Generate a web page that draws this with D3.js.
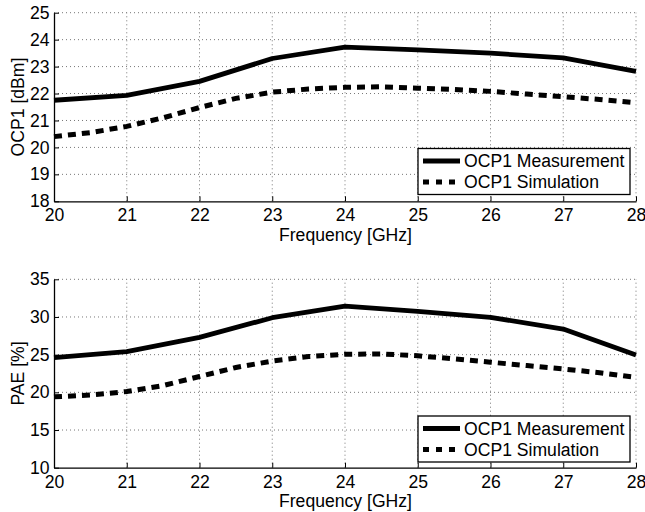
<!DOCTYPE html>
<html>
<head>
<meta charset="utf-8">
<script src="https://cdn.jsdelivr.net/npm/d3@7"></script>
<style>
  body { margin: 0; background: #fff; }
  text { font-family: "Liberation Sans", Arial, sans-serif; fill: #000; }
</style>
</head>
<body>
<div id="main"></div>
<script>
// frequency points (GHz)
var freq = [20, 21, 22, 23, 24, 25, 26, 27, 28];
var freqTicks = [20, 21, 22, 23, 24, 25, 26, 27, 28];

// OCP1 [dBm]
var ocpMeas = [21.75, 21.93, 22.45, 23.3, 23.72, 23.62, 23.5, 23.32, 22.82];
var ocpSimFreq = [20, 20.5, 21, 21.5, 22, 22.5, 23, 23.5, 24, 24.5, 25, 25.5, 26, 26.5, 27, 27.5, 28];
var ocpSim = [20.4, 20.55, 20.78, 21.1, 21.48, 21.82, 22.05, 22.17, 22.23, 22.25, 22.2, 22.15, 22.08, 21.98, 21.88, 21.78, 21.66];
var ocpTicks = [18, 19, 20, 21, 22, 23, 24, 25];

// PAE [%]
var paeMeas = [24.6, 25.4, 27.3, 29.9, 31.45, 30.75, 29.95, 28.4, 24.95];
var paeSimFreq = ocpSimFreq;
var paeSim = [19.4, 19.65, 20.1, 20.9, 22.1, 23.3, 24.15, 24.75, 25.05, 25.1, 24.85, 24.45, 24.0, 23.55, 23.1, 22.6, 22.0];
var paeTicks = [10, 15, 20, 25, 30, 35];

var legendLabels = ["OCP1 Measurement", "OCP1 Simulation"];

var ctx = { w: 645, h: 512, left: 54, right: 636, fs: "17.6px" };

var svg = d3.select("#main").append("svg")
  .attr("width", ctx.w).attr("height", ctx.h);

var drawPanel = function(opt) {
  var g = svg.append("g");
  var x = d3.scaleLinear().domain([20, 28]).range([ctx.left, ctx.right]);
  var y = d3.scaleLinear().domain(opt.yDomain).range([opt.bottom, opt.top]);

  // dotted grid
  g.append("g").selectAll("line.vx").data(freqTicks.slice(1)).enter().append("line")
    .attr("x1", function(d) { return x(d); }).attr("x2", function(d) { return x(d); })
    .attr("y1", opt.bottom).attr("y2", opt.top)
    .attr("stroke", "#777").attr("stroke-width", 1).attr("stroke-dasharray", "1,3");
  g.append("g").selectAll("line.hy").data(opt.yTicks.slice(1)).enter().append("line")
    .attr("y1", function(d) { return y(d); }).attr("y2", function(d) { return y(d); })
    .attr("x1", ctx.left).attr("x2", ctx.right)
    .attr("stroke", "#777").attr("stroke-width", 1).attr("stroke-dasharray", "1,3");

  // axes (ticks inward)
  var xAx = g.append("g").attr("transform", "translate(0," + opt.bottom + ")")
    .call(d3.axisBottom(x).tickValues(freqTicks).tickFormat(d3.format("d"))
      .tickSizeInner(-5).tickSizeOuter(0).tickPadding(7.5));
  var yAx = g.append("g").attr("transform", "translate(" + ctx.left + ",0)")
    .call(d3.axisLeft(y).tickValues(opt.yTicks).tickFormat(d3.format("d"))
      .tickSizeInner(-5).tickSizeOuter(0).tickPadding(4.5));
  [xAx, yAx].forEach(function(a) {
    a.select(".domain").attr("stroke", "#000").attr("stroke-width", 1.3);
    a.selectAll(".tick line").attr("stroke", "#000");
    a.selectAll("text").style("font-size", ctx.fs)
      .style("font-family", "'Liberation Sans', Arial, sans-serif");
  });

  // lines
  var line = d3.line().x(function(d) { return x(d[0]); }).y(function(d) { return y(d[1]); });
  g.append("path").datum(d3.zip(opt.simX, opt.sim))
    .attr("d", line).attr("fill", "none").attr("stroke", "#000")
    .attr("stroke-width", 5).attr("stroke-dasharray", "8,6");
  g.append("path").datum(d3.zip(freq, opt.meas))
    .attr("d", line).attr("fill", "none").attr("stroke", "#000")
    .attr("stroke-width", 4.8).attr("stroke-linejoin", "round");

  // axis labels
  g.append("text").attr("x", 345.5).attr("y", opt.bottom + 39.6)
    .attr("text-anchor", "middle").style("font-size", ctx.fs).text("Frequency [GHz]");
  g.append("text")
    .attr("transform", "translate(24," + ((opt.top + opt.bottom) / 2) + ") rotate(-90)")
    .attr("text-anchor", "middle").style("font-size", ctx.fs).text(opt.yLabel);

  // legend
  var lg = g.append("g").attr("transform", "translate(418," + opt.legendTop + ")");
  lg.append("rect").attr("width", 212).attr("height", 46)
    .attr("fill", "#fff").attr("stroke", "#000").attr("stroke-width", 1.3);
  legendLabels.forEach(function(lbl, i) {
    var ly = 12.5 + i * 21;
    lg.append("line").attr("x1", 5).attr("x2", 42).attr("y1", ly).attr("y2", ly)
      .attr("stroke", "#000").attr("stroke-width", i === 0 ? 4.8 : 5)
      .attr("stroke-dasharray", i === 0 ? null : "6,7");
    lg.append("text").attr("x", 46).attr("y", ly + 6).style("font-size", ctx.fs).text(lbl);
  });
};

drawPanel({ top: 12.7, bottom: 201.3, yDomain: [18, 25], yTicks: ocpTicks,
  meas: ocpMeas, sim: ocpSim, simX: ocpSimFreq, yLabel: "OCP1 [dBm]", legendTop: 148.5 });
drawPanel({ top: 279.3, bottom: 467.7, yDomain: [10, 35], yTicks: paeTicks,
  meas: paeMeas, sim: paeSim, simX: paeSimFreq, yLabel: "PAE [%]", legendTop: 416 });
</script>
</body>
</html>
